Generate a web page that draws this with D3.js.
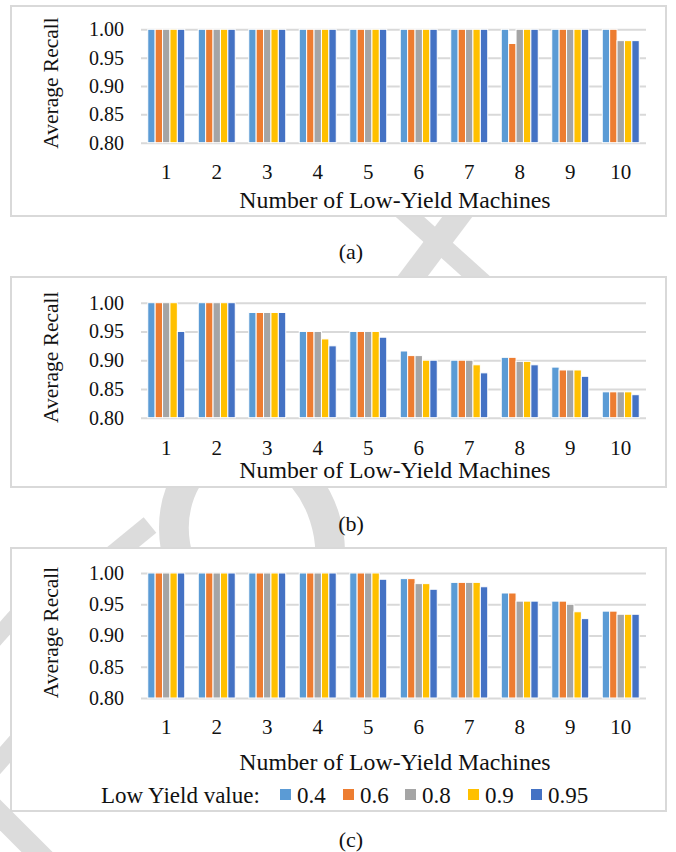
<!DOCTYPE html>
<html>
<head>
<meta charset="utf-8">
<script src="https://cdn.jsdelivr.net/npm/d3@7"></script>
<style>
  body { margin: 0; background: #fff; }
</style>
</head>
<body>
<div id="chart"></div>
<script>
// Data
const categories = ['1', '2', '3', '4', '5', '6', '7', '8', '9', '10'];
const seriesNames = ['0.4', '0.6', '0.8', '0.9', '0.95'];
const yTicks = [0.80, 0.85, 0.90, 0.95, 1.00];

// one row per category, one value per series
const recallA = [
  [1, 1, 1, 1, 1], [1, 1, 1, 1, 1], [1, 1, 1, 1, 1], [1, 1, 1, 1, 1], [1, 1, 1, 1, 1],
  [1, 1, 1, 1, 1], [1, 1, 1, 1, 1], [1, 0.975, 1, 1, 1], [1, 1, 1, 1, 1], [1, 1, 0.98, 0.98, 0.98]
];
const recallB = [
  [1, 1, 1, 1, 0.95], [1, 1, 1, 1, 1], [0.983, 0.983, 0.983, 0.983, 0.983],
  [0.95, 0.95, 0.95, 0.937, 0.925], [0.95, 0.95, 0.95, 0.95, 0.94],
  [0.916, 0.908, 0.908, 0.90, 0.90], [0.90, 0.90, 0.90, 0.892, 0.878],
  [0.905, 0.905, 0.898, 0.898, 0.892], [0.888, 0.883, 0.883, 0.883, 0.872],
  [0.845, 0.845, 0.845, 0.845, 0.84]
];
const recallC = [
  [1, 1, 1, 1, 1], [1, 1, 1, 1, 1], [1, 1, 1, 1, 1], [1, 1, 1, 1, 1],
  [1, 1, 1, 1, 0.99], [0.991, 0.991, 0.983, 0.983, 0.974],
  [0.985, 0.985, 0.985, 0.985, 0.978], [0.968, 0.968, 0.955, 0.955, 0.955],
  [0.955, 0.955, 0.95, 0.938, 0.927], [0.939, 0.939, 0.934, 0.934, 0.934]
];

const colors = ['#5B9BD5', '#ED7D31', '#A5A5A5', '#FFC000', '#4472C4'];
const gridColor = '#d9d9d9';
const serif = '"Liberation Serif", "Times New Roman", serif';

const W = 676, H = 852;
const svg = d3.select('#chart').append('svg')
  .attr('width', W).attr('height', H);

function label(sel, size) {
  return sel.style('font-family', serif).style('font-size', size + 'px').style('fill', '#111');
}

// Watermark behind the panels
const wm = svg.append('g').attr('fill', 'none').attr('stroke', '#dcdcdc');
wm.append('line').attr('x1', 360).attr('y1', 172).attr('x2', 530).attr('y2', 325).attr('stroke-width', 19);
wm.append('line').attr('x1', 500).attr('y1', 160).attr('x2', 370).attr('y2', 333).attr('stroke-width', 24);
wm.append('ellipse').attr('cx', 252).attr('cy', 540).attr('rx', 76).attr('ry', 95)
  .attr('transform', 'rotate(-18 252 540)').attr('stroke-width', 30);
wm.append('line').attr('x1', -60).attr('y1', 755).attr('x2', 110).attr('y2', 925).attr('stroke-width', 22);
wm.append('line').attr('x1', 95).attr('y1', 570).attr('x2', 150).attr('y2', 525).attr('stroke-width', 20);
wm.append('line').attr('x1', -10).attr('y1', 645).attr('x2', 30).attr('y2', 600).attr('stroke-width', 16);
wm.append('line').attr('x1', -10).attr('y1', 772).attr('x2', 40).attr('y2', 715).attr('stroke-width', 18);

// Panel layout
const plotLeft = 141, plotRight = 646;
const panels = [
  { values: recallA, box: [11, 6, 655, 210], top: 29.3, bottom: 142.7, catY: 172, titleY: 200, capY: 251, cap: '(a)' },
  { values: recallB, box: [11, 277, 655, 210], top: 302.7, bottom: 417.7, catY: 448, titleY: 470, capY: 523, cap: '(b)' },
  { values: recallC, box: [11, 548, 655, 263], top: 573, bottom: 698, catY: 727, titleY: 762, capY: 839, cap: '(c)', legendY: 795 }
];

const x0 = d3.scaleBand().domain(categories).range([plotLeft, plotRight]).padding(0);
const groupW = 37;
const x1 = d3.scaleBand().domain(seriesNames).range([0, groupW]).padding(0);

panels.forEach(p => {
  const g = svg.append('g');
  g.append('rect')
    .attr('x', p.box[0]).attr('y', p.box[1])
    .attr('width', p.box[2]).attr('height', p.box[3])
    .attr('fill', '#fff').attr('stroke', gridColor).attr('stroke-width', 2);

  const y = d3.scaleLinear().domain([0.8, 1.0]).range([p.bottom, p.top]);

  // gridlines + tick labels
  const yAxis = d3.axisLeft(y).tickValues(yTicks).tickFormat(d3.format('.2f'))
    .tickSize(-(plotRight - plotLeft)).tickPadding(17);
  const ya = g.append('g').attr('transform', `translate(${plotLeft},0)`).call(yAxis);
  ya.select('.domain').remove();
  ya.selectAll('.tick line').attr('stroke', gridColor).attr('stroke-width', 2);
  label(ya.selectAll('.tick text'), 20);

  // bars
  const groups = g.selectAll('.cat').data(p.values).enter().append('g')
    .attr('transform', (d, i) => `translate(${x0(categories[i]) + (x0.bandwidth() - groupW) / 2},0)`);
  groups.selectAll('rect').data(d => d.map((v, j) => ({ v, s: seriesNames[j], j })))
    .enter().append('rect')
    .attr('x', d => x1(d.s))
    .attr('y', d => y(d.v))
    .attr('width', x1.bandwidth())
    .attr('height', d => y(0.8) - y(d.v))
    .attr('fill', d => colors[d.j])
    .attr('stroke', '#fff').attr('stroke-width', 1);

  // category labels
  const xAxis = d3.axisBottom(x0).tickSize(0);
  const xa = g.append('g').attr('transform', `translate(0,${p.catY})`).call(xAxis);
  xa.select('.domain').remove();
  label(xa.selectAll('.tick text').attr('y', 0).attr('dy', '0.35em'), 21);

  // axis titles
  label(g.append('text')
    .attr('x', 395).attr('y', p.titleY).attr('dy', '0.35em')
    .attr('text-anchor', 'middle')
    .text('Number of Low-Yield Machines'), 23.8);
  label(g.append('text')
    .attr('transform', `translate(50,${(p.top + p.bottom) / 2 - 3}) rotate(-90)`)
    .attr('dy', '0.35em').attr('text-anchor', 'middle')
    .text('Average Recall'), 21.5);

  // caption
  label(svg.append('text')
    .attr('x', 351).attr('y', p.capY).attr('dy', '0.35em')
    .attr('text-anchor', 'middle')
    .text(p.cap), 22);

  // legend
  if (p.legendY) {
    const lg = g.append('g').attr('transform', `translate(0,${p.legendY})`);
    label(lg.append('text').attr('x', 101).attr('dy', '0.35em').text('Low Yield value:'), 23);
    const legX = [280, 343, 405, 468, 531];
    seriesNames.forEach((s, i) => {
      lg.append('rect').attr('x', legX[i]).attr('y', -6).attr('width', 11).attr('height', 11)
        .attr('fill', colors[i]);
      label(lg.append('text').attr('x', legX[i] + 17).attr('dy', '0.35em').text(s), 23);
    });
  }
});
</script>
</body>
</html>
